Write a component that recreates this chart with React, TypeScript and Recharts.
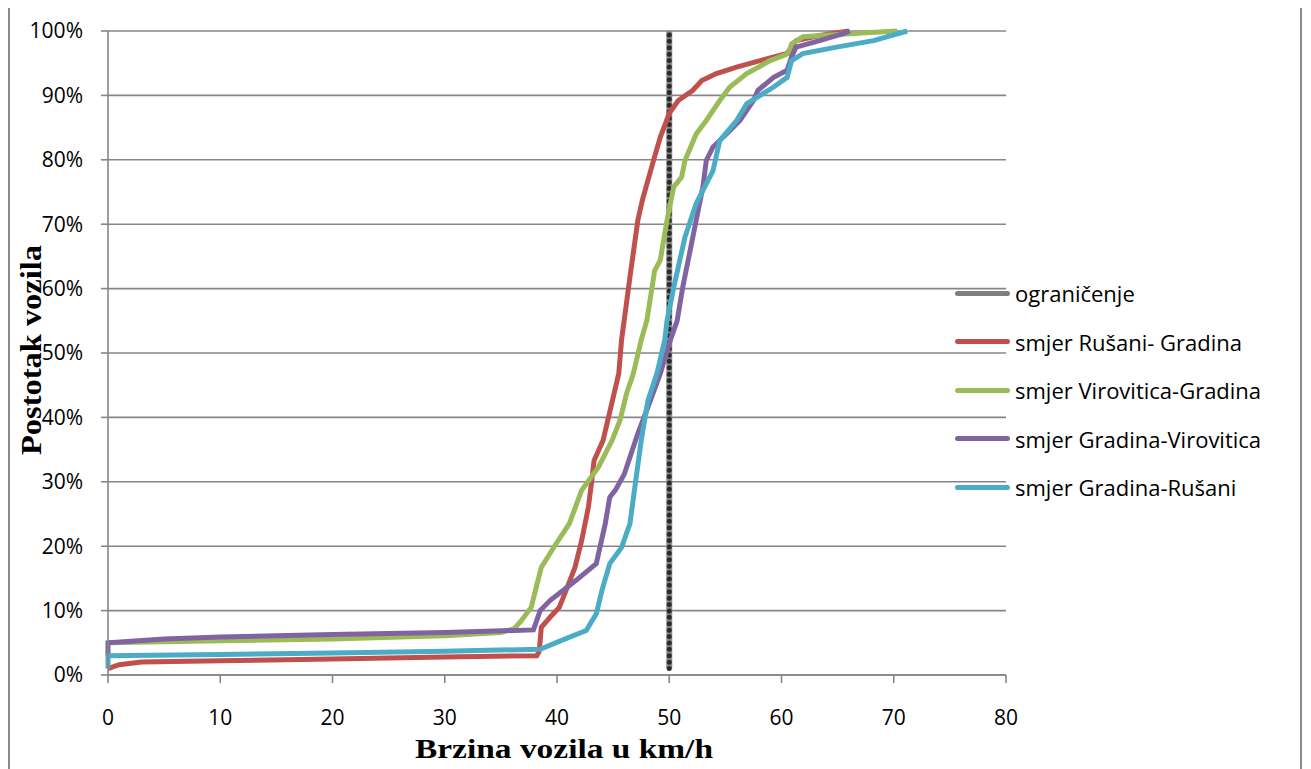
import { LineChart, Line, XAxis, YAxis, CartesianGrid } from "recharts";

// speed (km/h) vs cumulative share of vehicles (%)
const limitSpeed = [
  { x: 50, y: 1 },
  { x: 50, y: 100 },
];

const rusaniGradina = [
  { x: 0, y: 1.0 }, { x: 1, y: 1.6 }, { x: 3, y: 2.0 }, { x: 10, y: 2.2 },
  { x: 20, y: 2.5 }, { x: 30, y: 2.8 }, { x: 38.2, y: 3.0 }, { x: 38.4, y: 3.6 },
  { x: 38.5, y: 5.3 }, { x: 38.6, y: 7.4 }, { x: 39.4, y: 9.0 }, { x: 40.2, y: 10.5 },
  { x: 40.8, y: 13.1 }, { x: 41.6, y: 16.7 }, { x: 42.2, y: 20.9 }, { x: 42.8, y: 26.1 },
  { x: 43.1, y: 30.2 }, { x: 43.3, y: 33.3 }, { x: 44.1, y: 36.4 }, { x: 44.8, y: 41.6 },
  { x: 45.5, y: 46.8 }, { x: 45.75, y: 52 }, { x: 46.5, y: 61.8 }, { x: 47.2, y: 70.6 },
  { x: 47.6, y: 73.7 }, { x: 48.6, y: 79.9 }, { x: 49.2, y: 83.5 }, { x: 50.0, y: 87.2 },
  { x: 50.8, y: 89.2 }, { x: 52.1, y: 90.8 }, { x: 52.9, y: 92.3 }, { x: 54.2, y: 93.4 },
  { x: 56.0, y: 94.4 }, { x: 58.1, y: 95.4 }, { x: 60.5, y: 96.5 }, { x: 61.3, y: 98.5 },
  { x: 63.4, y: 99.3 }, { x: 66, y: 100 },
];

const viroviticaGradina = [
  { x: 0, y: 5.0 }, { x: 10, y: 5.3 }, { x: 20, y: 5.6 }, { x: 30, y: 6.1 },
  { x: 35, y: 6.6 }, { x: 36.2, y: 7.2 }, { x: 36.8, y: 8.4 }, { x: 37.7, y: 10.5 },
  { x: 38.0, y: 12.6 }, { x: 38.6, y: 16.7 }, { x: 39.7, y: 19.8 }, { x: 41.1, y: 23.5 },
  { x: 42.2, y: 28.7 }, { x: 43.7, y: 32.3 }, { x: 44.9, y: 36.4 }, { x: 45.6, y: 39.5 },
  { x: 46.2, y: 43.7 }, { x: 46.8, y: 46.8 }, { x: 47.5, y: 52 }, { x: 48.0, y: 55.0 },
  { x: 48.7, y: 62.8 }, { x: 49.2, y: 64.4 }, { x: 49.8, y: 70.6 }, { x: 50.4, y: 75.8 },
  { x: 51.1, y: 77.3 }, { x: 51.4, y: 79.9 }, { x: 52.4, y: 84.0 }, { x: 53.3, y: 86.1 },
  { x: 54.5, y: 89.2 }, { x: 55.4, y: 91.3 }, { x: 56.9, y: 93.4 }, { x: 59.0, y: 95.4 },
  { x: 60.6, y: 96.5 }, { x: 60.9, y: 98.0 }, { x: 61.9, y: 99.1 }, { x: 66.4, y: 99.6 },
  { x: 70.3, y: 100 },
];

const gradinaVirovitica = [
  { x: 0, y: 3.0 }, { x: 0, y: 5.0 }, { x: 5, y: 5.6 }, { x: 10, y: 5.9 },
  { x: 20, y: 6.3 }, { x: 30, y: 6.6 }, { x: 37.9, y: 7.0 }, { x: 38.5, y: 10.0 },
  { x: 39.4, y: 11.6 }, { x: 41.7, y: 14.7 }, { x: 43.5, y: 17.3 }, { x: 44.3, y: 23.5 },
  { x: 44.7, y: 27.6 }, { x: 45.2, y: 28.7 }, { x: 46.0, y: 31.2 }, { x: 47.2, y: 37.5 },
  { x: 48.1, y: 41.6 }, { x: 49.2, y: 46.8 }, { x: 50.1, y: 52 }, { x: 50.7, y: 55.0 },
  { x: 51.2, y: 60.2 }, { x: 52.1, y: 68.0 }, { x: 53.0, y: 75.8 }, { x: 53.3, y: 79.9 },
  { x: 53.9, y: 82.0 }, { x: 55.1, y: 84.0 }, { x: 56.3, y: 86.1 }, { x: 57.5, y: 89.2 },
  { x: 57.9, y: 90.8 }, { x: 59.3, y: 92.8 }, { x: 60.5, y: 93.9 }, { x: 60.9, y: 96.0 },
  { x: 61.3, y: 97.5 }, { x: 63.4, y: 98.5 }, { x: 65.5, y: 99.6 }, { x: 66.1, y: 100 },
];

const gradinaRusani = [
  { x: 0, y: 1.0 }, { x: 0, y: 3.0 }, { x: 10, y: 3.2 }, { x: 20, y: 3.4 },
  { x: 30, y: 3.7 }, { x: 38.5, y: 4.0 }, { x: 40.3, y: 5.3 }, { x: 42.6, y: 6.9 },
  { x: 43.5, y: 9.5 }, { x: 44.0, y: 13.1 }, { x: 44.7, y: 17.3 }, { x: 45.75, y: 19.8 },
  { x: 46.5, y: 23.5 }, { x: 46.9, y: 28.7 }, { x: 47.5, y: 36.4 }, { x: 48.1, y: 42.6 },
  { x: 48.9, y: 46.8 }, { x: 49.6, y: 52 }, { x: 49.8, y: 55.0 }, { x: 50.4, y: 60.2 },
  { x: 51.4, y: 68.0 }, { x: 52.4, y: 73.2 }, { x: 53.9, y: 78.3 }, { x: 54.5, y: 83.0 },
  { x: 56.0, y: 86.1 }, { x: 56.9, y: 88.7 }, { x: 59.3, y: 91.3 }, { x: 60.5, y: 92.8 },
  { x: 60.9, y: 95.4 }, { x: 61.9, y: 96.5 }, { x: 64.9, y: 97.5 }, { x: 68.2, y: 98.5 },
  { x: 71.2, y: 100 },
];

const xTicks = [0, 10, 20, 30, 40, 50, 60, 70, 80];
const yTicks = [0, 10, 20, 30, 40, 50, 60, 70, 80, 90, 100];

const legendItems = [
  { name: "ograničenje", color: "#7f7f7f" },
  { name: "smjer Rušani- Gradina", color: "#C0504D" },
  { name: "smjer Virovitica-Gradina", color: "#9BBB59" },
  { name: "smjer Gradina-Virovitica", color: "#8064A2" },
  { name: "smjer Gradina-Rušani", color: "#4BACC6" },
];

const axisGray = "#868686";
const tickFont = { fontFamily: "'Open Sans', sans-serif", fontSize: 21, fill: "#000" };
const serif = "'Liberation Serif', 'Times New Roman', serif";

const XTitle = (props: any) => {
  const vb = props.viewBox;
  const cx = vb.x + vb.width / 2 + 7;
  return (
    <text
      x={cx}
      y={vb.y + 83}
      textAnchor="middle"
      textLength={298}
      lengthAdjust="spacingAndGlyphs"
      style={{ fontFamily: serif, fontSize: 27, fontWeight: 700, fill: "#000" }}
    >
      Brzina vozila u km/h
    </text>
  );
};

const YTitle = (props: any) => {
  const vb = props.viewBox;
  const x = 33;
  const y = vb.y + vb.height / 2 - 3;
  return (
    <text
      x={x}
      y={y}
      textAnchor="middle"
      textLength={210}
      lengthAdjust="spacingAndGlyphs"
      transform={`rotate(-90, ${x}, ${y})`}
      style={{ fontFamily: serif, fontSize: 30, fontWeight: 700, fill: "#000" }}
    >
      Postotak vozila
    </text>
  );
};

const App = () => {
  return (
    <div style={{ position: "relative", width: 1294, height: 790, marginTop: -2, overflow: "hidden" }}>
      <div
        style={{
          position: "absolute",
          left: 0,
          top: 0,
          width: 1294,
          height: 800,
          border: "2px solid #8c8c8c",
          boxSizing: "border-box",
        }}
      />
      <LineChart
        width={1294}
        height={790}
        margin={{ top: 25, right: 296, left: 0, bottom: 61 }}
      >
        <CartesianGrid vertical={false} stroke={axisGray} strokeWidth={1.6} />
        <XAxis
          type="number"
          dataKey="x"
          domain={[0, 80]}
          ticks={xTicks}
          height={60}
          stroke={axisGray}
          strokeWidth={1.6}
          tickSize={8}
          tickMargin={27}
          tick={tickFont}
          allowDuplicatedCategory={false}
          label={{ content: XTitle }}
        />
        <YAxis
          type="number"
          dataKey="y"
          domain={[0, 100]}
          ticks={yTicks}
          width={100}
          stroke={axisGray}
          strokeWidth={1.6}
          tickSize={7}
          tickMargin={18}
          tick={tickFont}
          tickFormatter={(v: number) => `${v}%`}
          label={{ content: YTitle }}
        />
        <Line
          data={limitSpeed}
          dataKey="y"
          type="linear"
          stroke="#8a8a8a"
          strokeWidth={6}
          dot={false}
          isAnimationActive={false}
        />
        <Line
          data={limitSpeed}
          dataKey="y"
          type="linear"
          stroke="#2b2b2b"
          strokeWidth={5}
          strokeDasharray="0 6.4"
          strokeLinecap="round"
          dot={false}
          isAnimationActive={false}
        />
        <Line data={rusaniGradina} dataKey="y" type="linear" stroke="#C0504D" strokeWidth={5} dot={false} isAnimationActive={false} />
        <Line data={viroviticaGradina} dataKey="y" type="linear" stroke="#9BBB59" strokeWidth={5} dot={false} isAnimationActive={false} />
        <Line data={gradinaVirovitica} dataKey="y" type="linear" stroke="#8064A2" strokeWidth={5} dot={false} isAnimationActive={false} />
        <Line data={gradinaRusani} dataKey="y" type="linear" stroke="#4BACC6" strokeWidth={5} dot={false} isAnimationActive={false} />
      </LineChart>
      <div style={{ position: "absolute", left: 947, top: 263, display: "flex", flexDirection: "column" }}>
        {legendItems.map((item) => (
          <div key={item.name} style={{ height: 48.5, display: "flex", alignItems: "center" }}>
            <span
              style={{
                display: "inline-block",
                width: 55,
                height: 5,
                borderRadius: 3,
                background: item.color,
                marginRight: 5,
              }}
            />
            <span style={{ fontFamily: "'Open Sans', sans-serif", fontSize: 22, color: "#000", whiteSpace: "nowrap" }}>
              {item.name}
            </span>
          </div>
        ))}
      </div>
    </div>
  );
};

export default App;
